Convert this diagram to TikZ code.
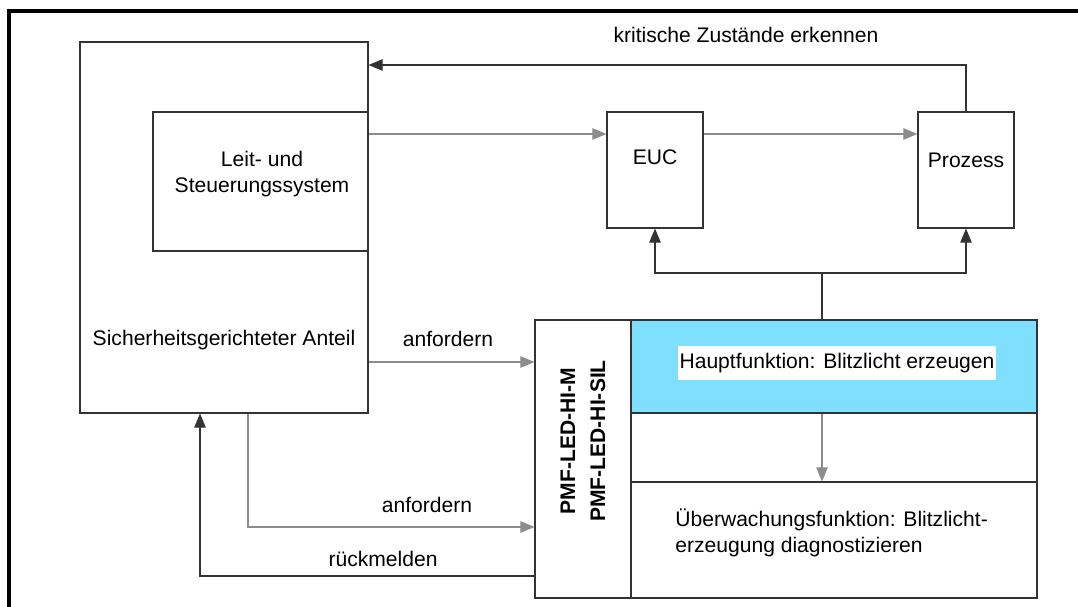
\documentclass[tikz,border=0pt]{standalone}
\usepackage{fontspec}
\setmainfont{Liberation Sans}
\usepackage{tikz}
\usetikzlibrary{arrows.meta,
	fit,
	positioning
}
\definecolor{hauptblau}{RGB}{127,223,255}
\tikzset{Schema/.style = {
		x=0.02cm, y=-0.02cm,
		every node/.style = {font=\fontsize{12}{14.4}\selectfont, inner sep=0pt, align=center},
		box/.style = {draw=black!80, line width=0.6pt},
		dunkel/.style = {draw=black!80, line width=0.6pt},
		hell/.style = {draw=black!45, line width=0.6pt},
		pfeil/.style = {-{Triangle[length=8pt,width=6.5pt]}},
		rahmen/.style = {line width=1.8pt, line cap=rect}
	}% end of Schema style
}

\begin{document}
\begin{tikzpicture}[Schema] % {{{-3
  \useasboundingbox (0,0) rectangle (1078,607);
  \draw[rahmen] (9,607) -- (9,11) -- (1078,11);

  \node[box, fit={(80,42) (368,413)}] (safe) {};
  \node (safetext) at (224,340) {Sicherheitsgerichteter Anteil};
  \node[box, fit={(153,112) (368,251)}] (leit) {};
  \node (leittext) at (262,174) {Leit- und\\Steuerungssystem};

  \node[box, fit={(607,112) (703,228)}] (euc) {};
  \node (euctext) at (655,157) {EUC};
  \node[box, fit={(918,112) (1014,228)}] (proz) {};
  \node (proztext) at (966,160) {Prozess};
  \node (krittext) at (746,35) {kritische Zustände erkennen};

  \begin{scope}
   \node[box, fit={(535,320) (631,598)}] (pmf) {};
   \node[rotate=90, font=\fontsize{12}{17}\selectfont\bfseries] (pmftext) at (583,441) {PMF-LED-HI-M\\PMF-LED-HI-SIL};
   \node[box, fit={(631,320) (1037,413)}, fill=hauptblau] (haupt) {};
   \node[fill=white, inner xsep=1pt, inner ysep=4pt] (haupttext) at (837,363) {Hauptfunktion: Blitzlicht erzeugen};
   \node[box, fit={(631,413) (1037,482)}] (mitte) {};
   \node[box, fit={(631,482) (1037,598)}] (ueber) {};
   \node[align=left, anchor=west] (uebertext) at (675,533) {Überwachungsfunktion: Blitzlicht-\\erzeugung diagnostizieren};
  \end{scope}

  \coordinate (br) at (822,273);
  \draw[dunkel] (br) -- (br |- haupt.north);
  \draw[dunkel, pfeil] (br) -| (euc.south);
  \draw[dunkel, pfeil] (br) -| (proz.south);
  \draw[hell, pfeil] (haupt.south -| br) -- (ueber.north -| br);

  \draw[dunkel, pfeil] (proz.north) |- (safe.east |- 0,65);
  \draw[hell, pfeil] (leit.east |- 0,134) -- (euc.west |- 0,134);
  \draw[hell, pfeil] (euc.east |- 0,134) -- (proz.west |- 0,134);

  \draw[hell, pfeil] (safe.east |- 0,362) -- (pmf.west |- 0,362);
  \node (anf1) at (448,339) {anfordern};
  \draw[hell, pfeil] (safe.south -| 248,0) |- (pmf.west |- 0,527);
  \node (anf2) at (427,505) {anfordern};
  \draw[dunkel, pfeil] (pmf.west |- 0,576) -| (safe.south -| 200,0);
  \node (rueck) at (383,559) {rückmelden};
 \end{tikzpicture}
\end{document}
